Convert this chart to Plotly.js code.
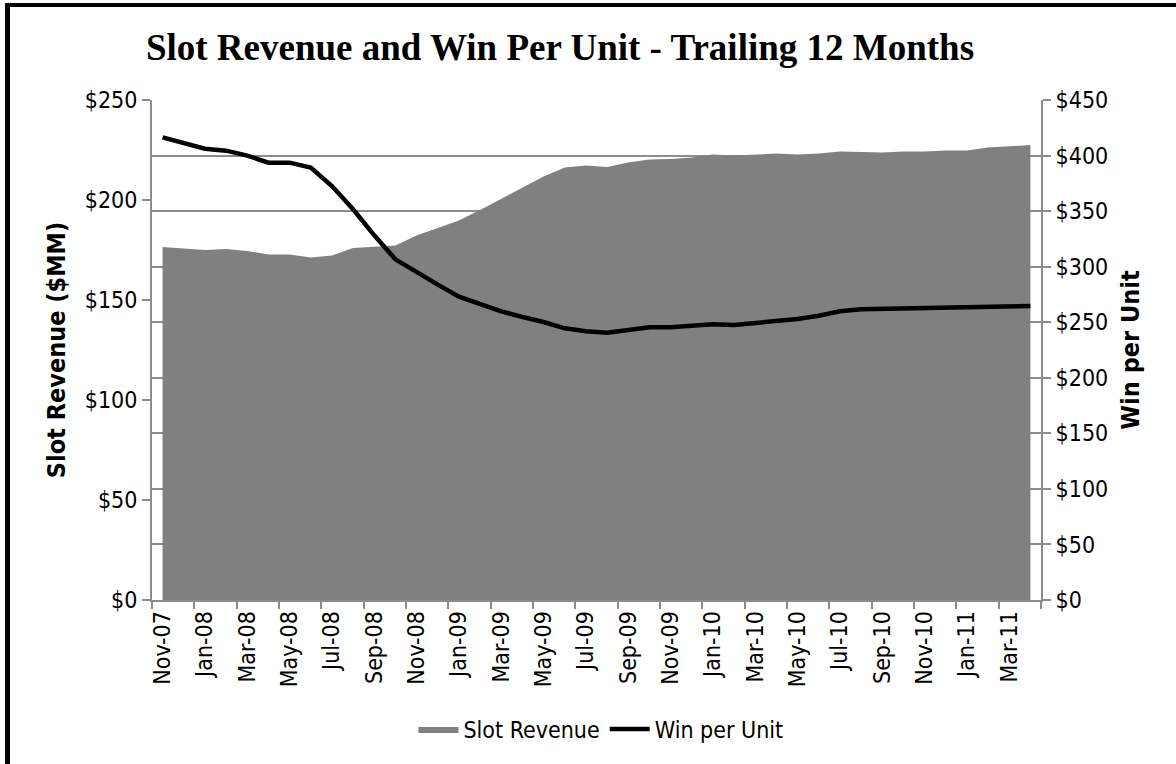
<!DOCTYPE html>
<html>
<head>
<meta charset="utf-8">
<script src="https://cdn.plot.ly/plotly-3.0.1.min.js"></script>
<style>
  html, body { margin: 0; padding: 0; background: #fff; overflow: hidden; }
  #chart { width: 1176px; height: 764px; }
</style>
</head>
<body>
<div id="chart"></div>
<script>
const months = ["Nov-07","Dec-07","Jan-08","Feb-08","Mar-08","Apr-08","May-08","Jun-08","Jul-08","Aug-08",
  "Sep-08","Oct-08","Nov-08","Dec-08","Jan-09","Feb-09","Mar-09","Apr-09","May-09","Jun-09",
  "Jul-09","Aug-09","Sep-09","Oct-09","Nov-09","Dec-09","Jan-10","Feb-10","Mar-10","Apr-10",
  "May-10","Jun-10","Jul-10","Aug-10","Sep-10","Oct-10","Nov-10","Dec-10","Jan-11","Feb-11",
  "Mar-11","Apr-11"];

const slotRevenue = [176.5,175.8,175,175.5,174.5,172.8,172.7,171.3,172.3,176,
  176.5,177.3,182.2,185.8,189.7,195,200.5,205.8,211.7,216.3,
  217.3,216.5,218.7,220.3,220.5,221.3,222.7,222.2,222.8,223.2,
  222.8,223.2,224.2,223.8,223.7,224.2,224.3,224.8,224.8,226.2,
  226.7,227.5];

const winPerUnit = [416.4,411,406.2,404.4,400,393.6,393.6,389.1,372.6,351.6,
  328.2,306.6,294.9,283.8,273,266.1,259.8,254.7,250.2,244.5,
  241.8,240.6,243,245.4,245.4,246.6,248.1,247.5,249.3,252,
  252.9,255.9,259.8,261.6,261.9,262.2,262.5,263.1,262.8,263.7,
  264.3,264.6];

const leftTicks = [0, 50, 100, 150, 200, 250];
const rightTicks = [0, 50, 100, 150, 200, 250, 300, 350, 400, 450];

const xIdx = months.map((_, i) => i);
const labelIdx = xIdx.filter(i => i % 2 === 0);
const labelText = labelIdx.map(i => months[i]);
const boundaryTicks = [];
for (let i = 0; i <= months.length; i += 2) boundaryTicks.push(i - 0.5);

const NARROW = '"Liberation Sans Narrow", "Arial Narrow", "DejaVu Sans Condensed", sans-serif';
const AXC = '#8c8c8c';

// page geometry (pixels) for the outer frame, converted to paper units
const W = 1176, H = 764, ML = 152, MR = 135, MT = 100, MB = 164;
const PW = W - ML - MR, PH = H - MT - MB;
const px = v => (v - ML) / PW;
const py = v => (H - MB - v) / PH;

const traces = [
  {
    x: xIdx, y: slotRevenue, name: 'Slot Revenue', type: 'scatter', mode: 'lines',
    fill: 'tozeroy', fillcolor: '#808080', line: { width: 0, color: '#808080' },
    yaxis: 'y', hoverinfo: 'skip'
  },
  {
    x: xIdx, y: winPerUnit, name: 'Win per Unit', type: 'scatter', mode: 'lines',
    line: { width: 4.5, color: '#000000' }, yaxis: 'y2', hoverinfo: 'skip'
  }
];

const layout = {
  width: W, height: H,
  margin: { l: ML, r: MR, t: MT, b: MB, pad: 0 },
  paper_bgcolor: '#ffffff', plot_bgcolor: '#ffffff',
  font: { family: NARROW, size: 23, color: '#000' },
  title: {
    text: '<b>Slot Revenue and Win Per Unit - Trailing 12 Months</b>',
    font: { family: '"Liberation Serif", "Times New Roman", serif', size: 37, color: '#000' },
    xref: 'container', x: 560 / W, xanchor: 'center',
    yref: 'container', y: 1 - 47 / H, yanchor: 'middle'
  },
  showlegend: true,
  legend: {
    orientation: 'h', xref: 'paper', x: 0.505, xanchor: 'center',
    yref: 'paper', y: -0.258, yanchor: 'middle',
    font: { family: NARROW, size: 23, color: '#000' },
    itemwidth: 40, traceorder: 'normal', bgcolor: 'rgba(0,0,0,0)'
  },
  shapes: [
    { type: 'line', xref: 'paper', yref: 'paper', x0: px(7.5), x1: px(7.5), y0: py(3), y1: py(H + 2),
      line: { color: '#000', width: 5 }, layer: 'above' },
    { type: 'line', xref: 'paper', yref: 'paper', x0: px(5), x1: px(W + 2), y0: py(5), y1: py(5),
      line: { color: '#000', width: 4 }, layer: 'above' }
  ],
  xaxis: {
    range: [-0.5, months.length - 0.5],
    tickmode: 'array', tickvals: labelIdx, ticktext: labelText,
    tickangle: -90, ticks: '', ticklen: 0,
    tickfont: { family: NARROW, size: 23, color: '#000' },
    showline: true, linecolor: AXC, linewidth: 2,
    showgrid: false, zeroline: false, fixedrange: true,
    minor: { tickmode: 'array', tickvals: boundaryTicks, ticks: 'outside', ticklen: 7, tickwidth: 2, tickcolor: AXC, showgrid: false }
  },
  yaxis: {
    range: [0, 250], tickmode: 'array', tickvals: leftTicks,
    ticktext: leftTicks.map(v => '$' + v),
    ticks: 'outside', ticklen: 8, tickwidth: 2, tickcolor: AXC,
    tickfont: { family: NARROW, size: 23, color: '#000' },
    showline: true, linecolor: AXC, linewidth: 2,
    showgrid: false, zeroline: false, fixedrange: true,
    title: { text: '<b>Slot Revenue ($MM)</b>', font: { family: NARROW, size: 25, color: '#000' }, standoff: 12 }
  },
  yaxis2: {
    range: [0, 450], overlaying: 'y', side: 'right', tickmode: 'array', tickvals: rightTicks,
    ticktext: rightTicks.map(v => '$' + v),
    ticks: 'outside', ticklen: 8, tickwidth: 2, tickcolor: AXC,
    tickfont: { family: NARROW, size: 23, color: '#000' },
    showline: true, linecolor: AXC, linewidth: 2,
    showgrid: true, gridcolor: AXC, gridwidth: 2, zeroline: false, fixedrange: true,
    title: { text: '<b>Win per Unit</b>', font: { family: NARROW, size: 25, color: '#000' }, standoff: 14 }
  }
};

Plotly.newPlot('chart', traces, layout, { displayModeBar: false, staticPlot: true });
</script>
</body>
</html>
